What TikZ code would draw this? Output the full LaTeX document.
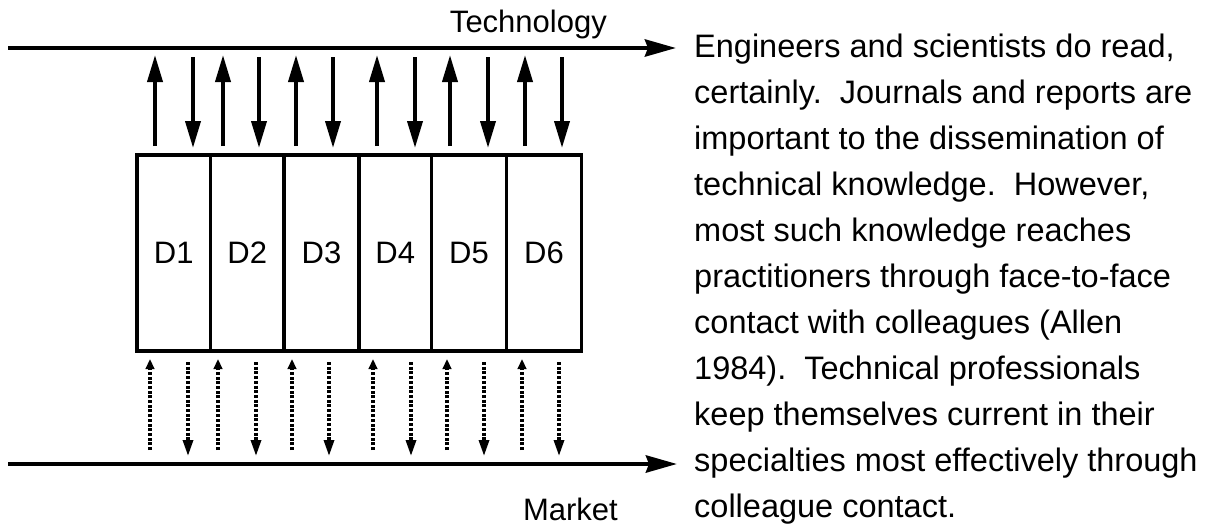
\documentclass[tikz,border=0pt]{standalone}
\usepackage{fontspec}
\setmainfont{Liberation Sans}
\usetikzlibrary{arrows.meta}
\begin{document}
\begin{tikzpicture}[x=1pt,y=-1pt,
  bus/.style={line width=4.5pt,-{Stealth[length=31pt,width=17pt,inset=3pt]}},
  solidarrow/.style={line width=3.8pt,-{Triangle[length=27pt,width=15pt]}},
  dotup/.style={line width=3.2pt,dash pattern=on 3pt off 1.7pt,-{Triangle[length=10pt,width=8.5pt]}},
  dotdown/.style={line width=3.2pt,dash pattern=on 3pt off 1.7pt,-{Triangle[length=16pt,width=10pt]}},
  dbox/.style={draw,line width=3.5pt,rectangle,inner sep=0pt,minimum height=196pt,
    font=\fontsize{31pt}{36pt}\selectfont},
  lbl/.style={inner sep=0pt,font=\fontsize{31pt}{36pt}\selectfont},
  para/.style={inner sep=0pt,anchor=base west,font=\fontsize{32.5pt}{40pt}\selectfont}]
\useasboundingbox (0,0) rectangle (1215,530);

% the two flows: technology above, market below
\coordinate (techL) at (8,48);
\coordinate (techR) at (676,48);
\coordinate (markL) at (8,464);
\coordinate (markR) at (677,464);
\draw[bus] (techL) -- (techR);
\draw[bus] (markL) -- (markR);
\node[lbl,anchor=base east] (tech) at (607,32) {Technology};
\node[lbl,anchor=base east] (mark) at (618,520) {Market};

% the six departments
\foreach \n/\l/\r in {1/137/210.5,2/210.5/284,3/284/359,4/359/431.5,5/431.5/506.5,6/506.5/581.5}{
  \node[dbox,minimum width={\r-\l}] (d\n) at ({(\l+\r)/2},253) {D\n};
}

% strong two-way links with technology
\foreach \u/\d in {155/193,223/259,296/333,377/415,450/488,525/562}{
  \draw[solidarrow] (\u,146) -- (\u,55);
  \draw[solidarrow] (\d,57) -- (\d,148);
}

% weak two-way links with the market
\foreach \u/\d in {150/188,218/256,292/329,373/411,447/484,522/559}{
  \draw[dotup] (\u,450) -- (\u,359);
  \draw[dotdown] (\d,362) -- (\d,456);
}

% running text beside the figure
\node[para] (l1)  at (694,57)  {Engineers and scientists do read,};
\node[para] (l2)  at (694,103) {certainly.\ \ Journals and reports are};
\node[para] (l3)  at (694,149) {important to the dissemination of};
\node[para] (l4)  at (694,195) {technical knowledge.\ \ However,};
\node[para] (l5)  at (694,241) {most such knowledge reaches};
\node[para] (l6)  at (694,287) {practitioners through face-to-face};
\node[para] (l7)  at (694,333) {contact with colleagues (Allen};
\node[para] (l8)  at (694,379) {1984).\ \ Technical professionals};
\node[para] (l9)  at (694,425) {keep themselves current in their};
\node[para] (l10) at (694,471) {specialties most effectively through};
\node[para] (l11) at (694,517) {colleague contact.};
\end{tikzpicture}
\end{document}
